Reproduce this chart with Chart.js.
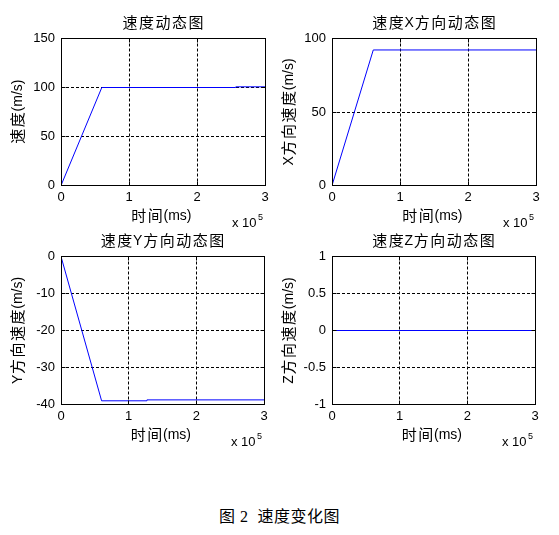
<!DOCTYPE html>
<html>
<head>
<meta charset="utf-8">
<script src="https://cdn.jsdelivr.net/npm/chart.js@4/dist/chart.umd.min.js"></script>
<style>
  body { margin: 0; background: #fff; width: 559px; height: 535px; position: relative; overflow: hidden; }
  .panel { position: absolute; }
  .caption {
    position: absolute; left: 0; width: 559px; top: 503px; text-align: center;
    font-family: "Liberation Serif", "Noto Sans CJK SC", serif; font-size: 16px; color: #000;
    letter-spacing: 0.5px;
  }
</style>
</head>
<body>
<div class="panel" style="left:0;top:0;width:280px;height:232px"><canvas id="cTotal"></canvas></div>
<div class="panel" style="left:270px;top:0;width:289px;height:232px"><canvas id="cX"></canvas></div>
<div class="panel" style="left:0;top:232px;width:280px;height:219px"><canvas id="cY"></canvas></div>
<div class="panel" style="left:270px;top:232px;width:289px;height:219px"><canvas id="cZ"></canvas></div>
<div class="caption">图 2&nbsp;&nbsp;速度变化图</div>
<script>
//------------------------------------------------------------
// data (time in ms)
const timeTotal = [0, 60000, 257000, 257000, 300000];
const speedTotal = [0, 100, 100, 100.7, 100.7];

const timeX = [0, 60700, 300000];
const speedX = [0, 92.2, 92.2];

const timeY = [0, 60000, 127000, 127000, 300000];
const speedY = [0, -39.0, -39.0, -38.75, -38.75];

const timeZ = [0, 300000];
const speedZ = [0, 0];

const xTickLabels = ['0', '1', '2', '3'];

const CJK = '"Noto Sans CJK SC", sans-serif';
const LATIN = '"Liberation Sans", Arial, sans-serif';

//------------------------------------------------------------
// draws a string mixing chinese and latin runs, centred on (cx, cy)
function drawMixed(ctx, text, cx, cy, rotate) {
    const runs = [];
    for (const ch of text) {
        const isCjk = /[\u3400-\u9fff]/.test(ch);
        const last = runs[runs.length - 1];
        if (last && last.cjk === isCjk) last.s += ch;
        else runs.push({ cjk: isCjk, s: ch });
    }
    let total = 0;
    runs.forEach(r => {
        ctx.font = r.cjk ? '15px ' + CJK : '14px ' + LATIN;
        r.w = ctx.measureText(r.s).width + (r.cjk ? r.s.length * 1.5 : 0);
        total += r.w;
    });
    ctx.save();
    ctx.translate(cx, cy);
    if (rotate) ctx.rotate(-Math.PI / 2);
    ctx.textBaseline = 'middle';
    ctx.textAlign = 'left';
    let x = -total / 2;
    runs.forEach(r => {
        ctx.font = r.cjk ? '15px ' + CJK : '14px ' + LATIN;
        if (r.cjk) {
            for (const ch of r.s) {
                ctx.fillText(ch, x + 0.75, 0);
                x += ctx.measureText(ch).width + 1.5;
            }
        } else {
            ctx.fillText(r.s, x, 1);
            x += r.w;
        }
    });
    ctx.restore();
}

//------------------------------------------------------------
// box around the axes, inward tick marks, titles and the "x 10^5" label
const framePlugin = {
    id: 'frame',
    afterDraw(chart) {
        const { ctx, chartArea: a } = chart;
        const t = chart.options.plugins.frame;
        ctx.save();
        ctx.strokeStyle = '#000';
        ctx.lineWidth = 1;
        ctx.setLineDash([]);
        const l = Math.floor(a.left) + 0.5, tp = Math.floor(a.top) + 0.5;
        const r = Math.floor(a.right) + 0.5, b = Math.floor(a.bottom) + 0.5;
        ctx.strokeRect(l, tp, r - l, b - tp);

        ctx.beginPath();
        chart.scales.x.ticks.forEach(tk => {
            const px = Math.floor(chart.scales.x.getPixelForValue(tk.value)) + 0.5;
            ctx.moveTo(px, b); ctx.lineTo(px, b - 4);
            ctx.moveTo(px, tp); ctx.lineTo(px, tp + 4);
        });
        chart.scales.y.ticks.forEach(tk => {
            const py = Math.floor(chart.scales.y.getPixelForValue(tk.value)) + 0.5;
            ctx.moveTo(l, py); ctx.lineTo(l + 4, py);
            ctx.moveTo(r, py); ctx.lineTo(r - 4, py);
        });
        ctx.stroke();

        ctx.fillStyle = '#000';
        const cx = (a.left + a.right) / 2;
        const cy = (a.top + a.bottom) / 2;
        drawMixed(ctx, t.title, cx, a.top - 16, false);
        drawMixed(ctx, '时间(ms)', cx - 2, a.bottom + 30, false);
        drawMixed(ctx, t.yTitle, a.left - 44, cy, true);
        ctx.font = '13px ' + LATIN;
        ctx.textBaseline = 'middle';
        ctx.textAlign = 'left';
        const bx = a.right - 33;
        ctx.fillText('x 10', bx, a.bottom + 38);
        const w = ctx.measureText('x 10').width;
        ctx.font = '9px ' + LATIN;
        ctx.fillText('5', bx + w + 1.5, a.bottom + 32);
        ctx.restore();
    }
};

//------------------------------------------------------------
function makeChart(id, xs, ys, opts) {
    const points = xs.map((x, i) => ({ x: x, y: ys[i] }));
    return new Chart(document.getElementById(id), {
        type: 'line',
        data: {
            datasets: [{
                data: points,
                borderColor: '#0000ff',
                borderWidth: 1,
                pointRadius: 0,
                tension: 0,
            }],
        },
        options: {
            responsive: true,
            maintainAspectRatio: false,
            animation: false,
            layout: { padding: { top: opts.top, left: 0, right: opts.right, bottom: 0 } },
            plugins: {
                legend: { display: false },
                tooltip: { enabled: false },
                title: { display: false },
                frame: { title: opts.title, yTitle: opts.yTitle },
            },
            scales: {
                x: {
                    type: 'linear',
                    min: 0,
                    max: 300000,
                    afterBuildTicks: s => { s.ticks = [0, 100000, 200000, 300000].map(v => ({ value: v })); },
                    afterFit: s => { s.height = opts.xHeight; },
                    ticks: {
                        color: '#000',
                        font: { family: LATIN, size: 13 },
                        padding: 4,
                        maxRotation: 0,
                        callback: (v, i) => xTickLabels[i],
                    },
                    grid: {
                        color: ctx => (ctx.index === 1 || ctx.index === 2) ? '#000' : 'rgba(0,0,0,0)',
                        lineWidth: 1,
                        drawTicks: false,
                    },
                    border: { display: false, dash: [3, 2] },
                },
                y: {
                    type: 'linear',
                    min: opts.yMin,
                    max: opts.yMax,
                    ticks: {
                        stepSize: opts.yStep,
                        color: '#000',
                        font: { family: LATIN, size: 13 },
                        padding: 6,
                        callback: v => String(Math.round(v * 10) / 10),
                    },
                    afterFit: s => { s.width = opts.yWidth; },
                    grid: {
                        color: ctx => (ctx.tick && ctx.tick.value !== opts.yMin && ctx.tick.value !== opts.yMax) ? '#000' : 'rgba(0,0,0,0)',
                        lineWidth: 1,
                        drawTicks: false,
                    },
                    border: { display: false, dash: [3, 2] },
                },
            },
        },
        plugins: [framePlugin],
    });
}

makeChart('cTotal', timeTotal, speedTotal, {
    title: '速度动态图', yTitle: '速度(m/s)', yMin: 0, yMax: 150, yStep: 50,
    yWidth: 61, right: 15, top: 38.5, xHeight: 46.5,
});
makeChart('cX', timeX, speedX, {
    title: '速度X方向动态图', yTitle: 'X方向速度(m/s)', yMin: 0, yMax: 100, yStep: 50,
    yWidth: 62, right: 23, top: 38.5, xHeight: 46.5,
});
makeChart('cY', timeY, speedY, {
    title: '速度Y方向动态图', yTitle: 'Y方向速度(m/s)', yMin: -40, yMax: 0, yStep: 10,
    yWidth: 61, right: 16, top: 24.5, xHeight: 46.5,
});
makeChart('cZ', timeZ, speedZ, {
    title: '速度Z方向动态图', yTitle: 'Z方向速度(m/s)', yMin: -1, yMax: 1, yStep: 0.5,
    yWidth: 62, right: 24, top: 24.5, xHeight: 46.5,
});
</script>
</body>
</html>
